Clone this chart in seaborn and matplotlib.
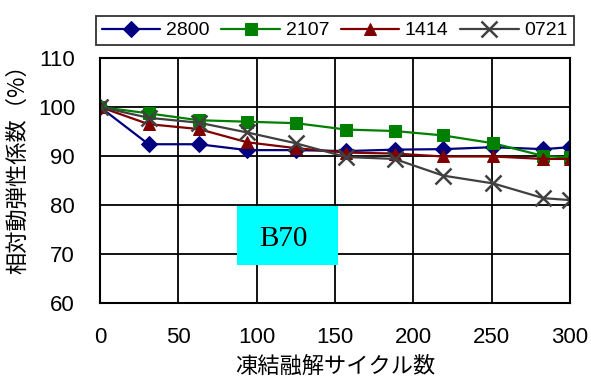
import matplotlib
matplotlib.use("Agg")
import matplotlib.pyplot as plt
from matplotlib.patches import Rectangle
import seaborn as sns
import pandas as pd

cycles = [0, 31, 63, 94, 125, 157, 188, 219, 251, 283, 300]
s2800 = [100, 92.4, 92.4, 91.2, 91.2, 91.0, 91.3, 91.4, 91.8, 91.4, 91.8]
s2107 = [100, 98.7, 97.3, 97.0, 96.7, 95.4, 95.1, 94.2, 92.6, 90.0, 89.7]
s1414 = [100, 96.5, 95.5, 92.8, 91.6, 90.7, 90.5, 89.9, 89.9, 89.4, 89.4]
s0721 = [100, 97.8, 96.8, 94.8, 92.6, 89.8, 89.4, 86.0, 84.4, 81.4, 81.0]
series_names = ["2800", "2107", "1414", "0721"]
xticks = [0, 50, 100, 150, 200, 250, 300]
yticks = [60, 70, 80, 90, 100, 110]

colors = ["#000080", "#008000", "#800000", "#404040"]
markers = ["D", "s", "^", "x"]
msizes = [8, 8, 9, 12]

sns.set_theme(style="white")
plt.rcParams["font.family"] = ["Liberation Sans", "Noto Sans CJK JP", "DejaVu Sans"]
plt.rcParams["text.color"] = "black"
plt.rcParams["axes.labelcolor"] = "black"
plt.rcParams["xtick.color"] = "black"
plt.rcParams["ytick.color"] = "black"

fig = plt.figure(figsize=(5.91, 3.80), dpi=100)
ax = fig.add_axes([100/591, 1-303/380, 470/591, 245/380])

data = [s2800, s2107, s1414, s0721]
for name, vals, c, m, ms in zip(series_names, data, colors, markers, msizes):
    df = pd.DataFrame({"cycle": cycles, "val": vals})
    kw = dict(markeredgecolor=c, markerfacecolor=c)
    if m == "x":
        kw = dict(markeredgecolor=c, markeredgewidth=1.8)
    sns.lineplot(data=df, x="cycle", y="val", ax=ax, color=c, marker=m,
                 markersize=ms, linewidth=1.6, label=name, **kw)

ax.set_xlim(0, 300)
ax.set_ylim(60, 110)
ax.set_xticks(xticks)
ax.set_yticks(yticks)
ax.grid(True, color="black", linewidth=1.3)
ax.set_axisbelow(True)
for sp in ax.spines.values():
    sp.set_color("black")
    sp.set_linewidth(1.5)
ax.tick_params(direction="in", length=4, color="black", labelsize=16, width=1.2)
ax.tick_params(axis="x", pad=17)
ax.tick_params(axis="y", pad=18)
ax.set_xlabel("凍結融解サイクル数", fontsize=16, family=["Noto Sans CJK JP"], labelpad=5)
ax.set_ylabel("相対動弾性係数（%）", fontsize=16, family=["Noto Sans CJK JP"])
ax.yaxis.set_label_coords(-0.15, 0.567)

fig.patches.append(Rectangle((237/591, 1-265/380), 101/591, 59/380,
                             transform=fig.transFigure, facecolor="#00FFFF",
                             edgecolor="none", zorder=5))
fig.text(283/591, 1-239/380, "B70", ha="center", va="center", fontsize=21,
         family=["Liberation Serif"], zorder=6)

leg = ax.legend(loc="center", bbox_to_anchor=(335/591, 1-30.5/380), bbox_transform=fig.transFigure,
                ncol=4, fontsize=14, frameon=True, fancybox=False, edgecolor="black",
                handlelength=3.0, handletextpad=0.3, columnspacing=0.6, borderpad=0.3)
leg.get_frame().set_linewidth(1.3)

fig.savefig("out.png", dpi=100)
